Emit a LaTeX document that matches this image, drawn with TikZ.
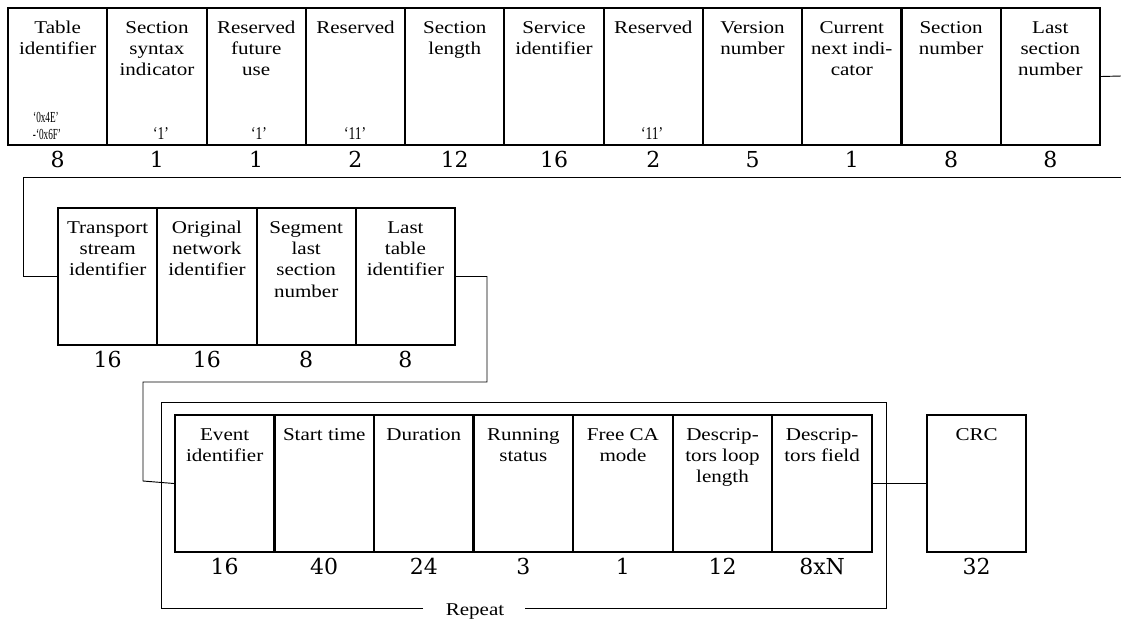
\documentclass[tikz,border=0pt]{standalone}
\usepackage{fontspec}
\newfontfamily\labfam[FakeStretch=1.17]{Liberation Serif}
\newfontfamily\cfamA[FakeStretch=0.6]{Liberation Serif}
\newfontfamily\cfamB[FakeStretch=0.75]{Liberation Serif}
\newfontfamily\numfam{DejaVu Serif}
\newcommand\labf{\labfam\fontsize{13.5pt}{16pt}\selectfont}
\newcommand\qfA{\cfamA\fontsize{11.5pt}{14pt}\selectfont}
\newcommand\qfB{\cfamB\fontsize{13.5pt}{16pt}\selectfont}
\newcommand\numf{\numfam\fontsize{16.5pt}{20pt}\selectfont}
\begin{document}
\begin{tikzpicture}[x=0.75pt,y=-0.75pt,
  cell/.style={draw,line width=1.5pt,minimum width=74.5pt,minimum height=102.75pt,inner sep=0pt,anchor=north west},
  lbl/.style={anchor=north,inner sep=0pt,align=center,font=\labf},
  num/.style={anchor=base,inner sep=0pt,font=\numf},
  qa/.style={anchor=base,inner sep=0pt,font=\qfA},
  qb/.style={anchor=base,inner sep=0pt,font=\qfB},
  conn/.style={line width=0.7pt}]
\useasboundingbox (0,0) rectangle (1121,622);
% ---- row 1
\foreach \i/\t/\n in {
  1/{Table\\identifier}/8,
  2/{Section\\syntax\\indicator}/1,
  3/{Reserved\\future\\use}/1,
  4/{Reserved}/2,
  5/{Section\\length}/12,
  6/{Service\\identifier}/16,
  7/{Reserved}/2,
  8/{Version\\number}/5,
  9/{Current\\next indi-\\cator}/1,
  10/{Section\\number}/8,
  11/{Last\\section\\number}/8}{
  \pgfmathsetmacro\xx{7+99.27*(\i-1)}
  \node[cell] (c\i) at (\xx,7) {};
  \node[lbl] (t\i) at (c\i.north) {\rule{0pt}{19.5pt}\t};
  \node[num] (n\i) at ([yshift=-15.75pt]c\i.south) {\n};
}
\node[qa] (v1a) at (46,122) {‘0x4E’};
\node[qa] (v1b) at (47,139) {-‘0x6F’};
\node[qb] (v2) at (161,139) {‘1’};
\node[qb] (v3) at (259,139) {‘1’};
\node[qb] (v4) at (355,139) {‘11’};
\node[qb] (v7) at (652,139) {‘11’};
% ---- row 2
\foreach \i/\t/\n in {
  1/{Transport\\stream\\identifier}/16,
  2/{Original\\network\\identifier}/16,
  3/{Segment\\last\\section\\number}/8,
  4/{Last\\table\\identifier}/8}{
  \pgfmathsetmacro\xx{57+99.25*(\i-1)}
  \node[cell] (d\i) at (\xx,207) {};
  \node[lbl] (u\i) at (d\i.north) {\rule{0pt}{19.5pt}\t};
  \node[num] (m\i) at ([yshift=-15.75pt]d\i.south) {\n};
}
% ---- row 3
\foreach \i/\t/\n in {
  1/{Event\\identifier}/16,
  2/{Start time}/40,
  3/{Duration}/24,
  4/{Running\\status}/3,
  5/{Free CA\\mode}/1,
  6/{Descrip-\\tors loop\\length}/12,
  7/{Descrip-\\tors field}/8xN}{
  \pgfmathsetmacro\xx{174+99.57*(\i-1)}
  \node[cell] (e\i) at (\xx,414) {};
  \node[lbl] (w\i) at (e\i.north) {\rule{0pt}{19.5pt}\t};
  \node[num] (k\i) at ([yshift=-15.75pt]e\i.south) {\n};
}
\node[cell] (crc) at (926,414) {};
\node[lbl] (crct) at (crc.north) {\rule{0pt}{19.5pt}CRC};
\node[num] (crcn) at ([yshift=-15.75pt]crc.south) {32};
% ---- repeat frame
\node[anchor=base,inner sep=0pt,font=\labf] (rep) at (475,615) {Repeat};
\coordinate (rl) at (423,608);
\coordinate (rr) at (525,608);
\draw[conn] (rl) -| (161,402) -| (886,608) -- (rr);
% ---- connectors
\coordinate (o1) at (1121,76);
\draw[conn] (c11.east) -- (o1);
\coordinate (i2) at (1121,177);
\draw[conn] (i2) -- (23,177) |- (d1.west);
\draw[conn] (d4.east) -| (487,382) -| (143,481) -- (e1.west);
\draw[conn] (e7.east) -- (crc.west);
\end{tikzpicture}
\end{document}
